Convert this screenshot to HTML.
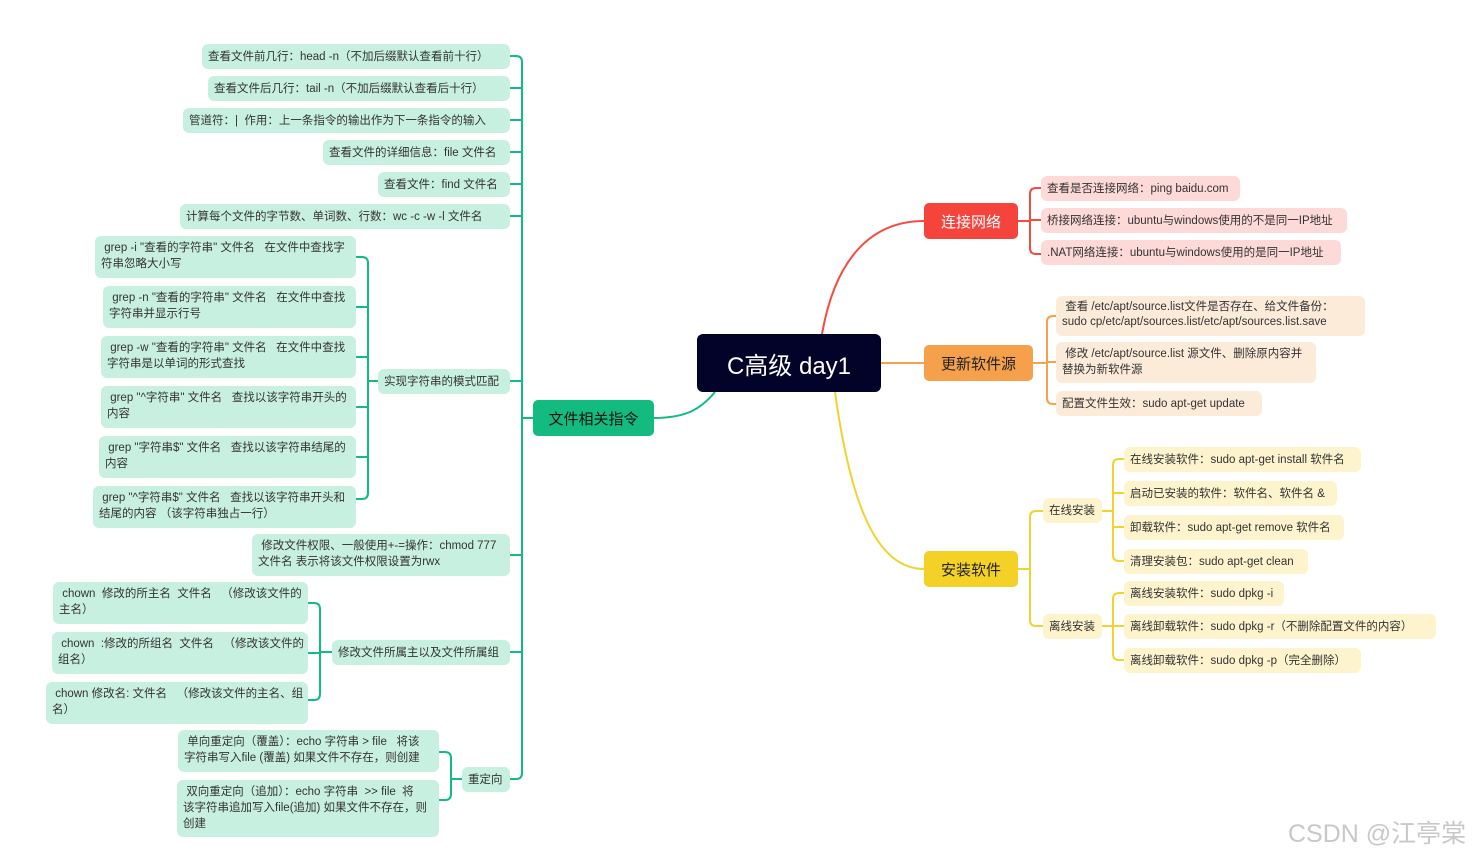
<!DOCTYPE html>
<html><head><meta charset="utf-8">
<style>
body{margin:0;width:1484px;height:858px;background:#fff;position:relative;overflow:hidden;font-family:"Liberation Sans","Noto Sans CJK SC",sans-serif;}
.n{position:absolute;box-sizing:border-box;border-radius:6px;font-size:11.5px;line-height:16px;color:#333;padding:4px 6px;white-space:nowrap;overflow:hidden}
.g{background:#c8f0e1}
.r{background:#fdd9d7}
.o{background:#fdebd9}
.y{background:#fdf3cc}
.s{display:flex;align-items:center}
.m{position:absolute;box-sizing:border-box;border-radius:5px;color:#fff;font-size:15px;display:flex;align-items:center;justify-content:center}
svg{position:absolute;left:0;top:0}
</style></head><body>
<svg width="1484" height="858" fill="none" stroke-width="2">
<g stroke="#14bb80">
<path d="M653,418 C685,418 700,410 715,392"/>
<path d="M533,418 H522"/>
<path d="M522,62 V773"/>
<path d="M510,56 H516 Q522,56 522,62 M510,88 H522 M510,120 H522 M510,152 H522 M510,184 H522 M510,216 H522 M510,381 H522 M510,555 H522 M510,652 H522 M510,779 H516 Q522,779 522,773"/>
<path d="M378,381 H368 M368,263 V493 M356,257 H362 Q368,257 368,263 M356,307 H368 M356,357 H368 M356,407 H368 M356,457 H368 M356,499 H362 Q368,499 368,493"/>
<path d="M332,652 H320 M320,609 V694 M308,603 H314 Q320,603 320,609 M308,653 H320 M308,700 H314 Q320,700 320,694"/>
<path d="M462,779 H451 M451,758 V794 M439,752 H445 Q451,752 451,758 M439,800 H445 Q451,800 451,794"/>
</g>
<g stroke="#f44a41">
<path d="M822,334 C835,260 870,221 924,221"/>
<path d="M1018,221 H1030 M1030,194 V248 M1041,188 H1036 Q1030,188 1030,194 M1030,220 H1041 M1041,254 H1036 Q1030,254 1030,248"/>
</g>
<g stroke="#f5a04a">
<path d="M880,363 H924"/>
<path d="M1033,363 H1047 M1047,322 V398 M1056,316 H1053 Q1047,316 1047,322 M1047,362 H1056 M1056,404 H1053 Q1047,404 1047,398"/>
</g>
<g stroke="#f2d22e">
<path d="M835,392 C850,500 875,569 924,569"/>
<path d="M1018,569 H1030 M1030,517 V620 M1043,511 H1036 Q1030,511 1030,517 M1043,626 H1036 Q1030,626 1030,620"/>
<path d="M1102,511 H1113 M1113,465 V555 M1124,459 H1119 Q1113,459 1113,465 M1113,493 H1124 M1113,527 H1124 M1124,561 H1119 Q1113,561 1113,555"/>
<path d="M1102,626 H1113 M1113,599 V654 M1124,593 H1119 Q1113,593 1113,599 M1113,626 H1124 M1124,660 H1119 Q1113,660 1113,654"/>
</g>
</svg>

<div class="m" style="left:697px;top:334px;width:184px;height:58px;background:#03032a;font-size:24px;border-radius:6px">C高级 day1</div>
<div class="m" style="left:533px;top:400px;width:121px;height:36px;background:#14bb80;color:#111">文件相关指令</div>
<div class="m" style="left:924px;top:203px;width:94px;height:36px;background:#f5443c">连接网络</div>
<div class="m" style="left:924px;top:345px;width:109px;height:36px;background:#f5a04a;color:#222">更新软件源</div>
<div class="m" style="left:924px;top:551px;width:94px;height:36px;background:#f3d126;color:#222">安装软件</div>

<div class="n g s" style="left:202px;top:44px;width:308px;height:25px">查看文件前几行：head -n（不加后缀默认查看前十行）</div>
<div class="n g s" style="left:208px;top:76px;width:302px;height:25px">查看文件后几行：tail -n（不加后缀默认查看后十行）</div>
<div class="n g s" style="left:183px;top:108px;width:327px;height:25px">管道符：|&nbsp; 作用：上一条指令的输出作为下一条指令的输入</div>
<div class="n g s" style="left:323px;top:140px;width:187px;height:25px">查看文件的详细信息：file 文件名</div>
<div class="n g s" style="left:378px;top:172px;width:132px;height:25px">查看文件：find 文件名</div>
<div class="n g s" style="left:180px;top:204px;width:330px;height:25px">计算每个文件的字节数、单词数、行数：wc -c -w -l 文件名</div>

<div class="n g" style="left:95px;top:236px;width:261px;height:42px">&nbsp;grep -i "查看的字符串" 文件名&nbsp;&nbsp; 在文件中查找字<br>符串忽略大小写</div>
<div class="n g" style="left:103px;top:286px;width:253px;height:42px">&nbsp;grep -n "查看的字符串" 文件名&nbsp;&nbsp; 在文件中查找<br>字符串并显示行号</div>
<div class="n g" style="left:101px;top:336px;width:255px;height:42px">&nbsp;grep -w "查看的字符串" 文件名&nbsp;&nbsp; 在文件中查找<br>字符串是以单词的形式查找</div>
<div class="n g" style="left:101px;top:386px;width:255px;height:42px">&nbsp;grep "^字符串" 文件名&nbsp;&nbsp; 查找以该字符串开头的<br>内容</div>
<div class="n g" style="left:99px;top:436px;width:257px;height:42px">&nbsp;grep "字符串$" 文件名&nbsp;&nbsp; 查找以该字符串结尾的<br>内容</div>
<div class="n g" style="left:93px;top:486px;width:263px;height:42px">&nbsp;grep "^字符串$" 文件名&nbsp;&nbsp; 查找以该字符串开头和<br>结尾的内容 （该字符串独占一行）</div>
<div class="n g s" style="left:378px;top:369px;width:132px;height:25px">实现字符串的模式匹配</div>

<div class="n g" style="left:252px;top:534px;width:258px;height:42px">&nbsp;修改文件权限、一般使用+-=操作：chmod 777<br>文件名 表示将该文件权限设置为rwx</div>

<div class="n g" style="left:53px;top:582px;width:255px;height:42px">&nbsp;chown&nbsp; 修改的所主名&nbsp; 文件名&nbsp;&nbsp; （修改该文件的<br>主名）</div>
<div class="n g" style="left:52px;top:632px;width:256px;height:42px">&nbsp;chown&nbsp; :修改的所组名&nbsp; 文件名&nbsp;&nbsp; （修改该文件的<br>组名）</div>
<div class="n g" style="left:46px;top:682px;width:262px;height:42px">&nbsp;chown 修改名: 文件名&nbsp;&nbsp; （修改该文件的主名、组<br>名）</div>
<div class="n g s" style="left:332px;top:640px;width:178px;height:25px">修改文件所属主以及文件所属组</div>

<div class="n g" style="left:178px;top:730px;width:261px;height:42px">&nbsp;单向重定向（覆盖）：echo 字符串 &gt; file&nbsp;&nbsp; 将该<br>字符串写入file (覆盖) 如果文件不存在，则创建</div>
<div class="n g" style="left:177px;top:780px;width:262px;height:57px">&nbsp;双向重定向（追加）：echo 字符串&nbsp; &gt;&gt; file&nbsp; 将<br>该字符串追加写入file(追加) 如果文件不存在，则<br>创建</div>
<div class="n g s" style="left:462px;top:767px;width:48px;height:25px">重定向</div>

<div class="n r s" style="left:1041px;top:176px;width:199px;height:25px">查看是否连接网络：ping baidu.com</div>
<div class="n r s" style="left:1041px;top:208px;width:306px;height:25px">桥接网络连接：ubuntu与windows使用的不是同一IP地址</div>
<div class="n r s" style="left:1041px;top:240px;width:300px;height:25px">.NAT网络连接：ubuntu与windows使用的是同一IP地址</div>

<div class="n o" style="left:1056px;top:296px;width:309px;height:40px;line-height:15px">&nbsp;查看 /etc/apt/source.list文件是否存在、给文件备份：<br>sudo cp/etc/apt/sources.list/etc/apt/sources.list.save</div>
<div class="n o" style="left:1056px;top:342px;width:260px;height:41px">&nbsp;修改 /etc/apt/source.list 源文件、删除原内容并<br>替换为新软件源</div>
<div class="n o s" style="left:1056px;top:391px;width:206px;height:25px">配置文件生效：sudo apt-get update</div>

<div class="n y s" style="left:1043px;top:498px;width:59px;height:25px">在线安装</div>
<div class="n y s" style="left:1043px;top:614px;width:59px;height:25px">离线安装</div>
<div class="n y s" style="left:1124px;top:447px;width:237px;height:25px">在线安装软件：sudo apt-get install 软件名</div>
<div class="n y s" style="left:1124px;top:481px;width:213px;height:25px">启动已安装的软件：软件名、软件名 &amp;</div>
<div class="n y s" style="left:1124px;top:515px;width:220px;height:25px">卸载软件：sudo apt-get remove 软件名</div>
<div class="n y s" style="left:1124px;top:549px;width:184px;height:25px">清理安装包：sudo apt-get clean</div>
<div class="n y s" style="left:1124px;top:581px;width:160px;height:25px">离线安装软件：sudo dpkg -i</div>
<div class="n y s" style="left:1124px;top:614px;width:312px;height:25px">离线卸载软件：sudo dpkg -r（不删除配置文件的内容）</div>
<div class="n y s" style="left:1124px;top:648px;width:237px;height:25px">离线卸载软件：sudo dpkg -p（完全删除）</div>

<div style="position:absolute;left:1288px;top:814px;font-size:25px;color:#c8c8c8;white-space:nowrap">CSDN @江亭棠</div>
</body></html>
